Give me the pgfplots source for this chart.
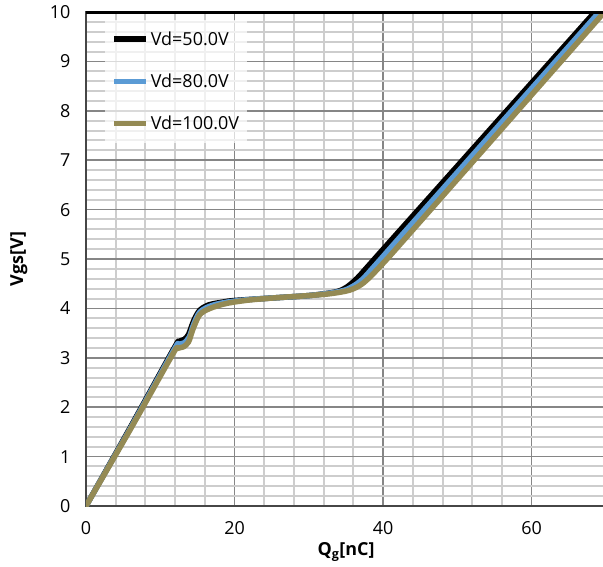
\documentclass[border=0pt]{standalone}
\usepackage{fontspec}
\setmainfont{Open Sans}
\usepackage{pgfplots}
\pgfplotsset{compat=1.18}
\definecolor{vdblue}{RGB}{91,155,213}
\definecolor{vdolive}{RGB}{148,138,84}
\definecolor{majgrid}{RGB}{134,134,134}
\definecolor{mingrid}{RGB}{205,205,205}
\begin{document}
\begin{tikzpicture}
\useasboundingbox (-86bp,-61bp) rectangle (517bp,506bp);
\begin{axis}[
  scale only axis, width=520bp, height=494bp,
  xmin=0, xmax=70, ymin=0, ymax=10,
  xtick={0,20,40,60}, ytick={0,1,...,10},
  minor x tick num=4, minor y tick num=4,
  grid=both,
  major grid style={majgrid, line width=1.5bp},
  minor grid style={mingrid, line width=2bp},
  major tick length=0pt, minor tick length=0pt,
  axis line style={draw=gray!55!black, line width=2.5bp},
  font=\fontsize{18}{21}\selectfont,
  /pgf/number format/assume math mode=true,
  xticklabel style={yshift=-12bp},
  yticklabel style={xshift=-12bp},
  xlabel={\bfseries Q\textsubscript{g}[nC]},
  ylabel={\bfseries Vgs[V]},
  xlabel style={at={(axis description cs:0.5,-0.093)}, anchor=center},
  ylabel style={at={(axis description cs:-0.129,0.5)}, anchor=center},
  legend style={at={(axis description cs:0.037,0.985)}, anchor=north west,
    draw=none, fill=white, fill opacity=0.7, text opacity=1,
    row sep=23bp, inner xsep=6bp, inner ysep=10bp},
  legend cell align=left,
  legend image code/.code={\draw[#1, line cap=butt] (0bp,0bp) -- (32bp,0bp);},
  every axis plot/.append style={line width=5.5bp, line join=round, line cap=round, smooth, tension=0.5},
]
\addplot[black] coordinates {
(0,0) (6,1.6) (11.8,3.18) (12.5,3.33) (13.2,3.37) (13.8,3.47) (14.5,3.75)
(15.3,3.96) (16.5,4.07) (18.5,4.13) (20,4.16) (25,4.21) (30,4.26) (33.5,4.33)
(35,4.42) (36.5,4.61) (38,4.86) (42.5,5.62) (68.5,10)};
\addlegendentry{Vd=50.0V}
\addplot[vdblue] coordinates {
(0,0) (6,1.58) (11.8,3.15) (12.4,3.27) (13.2,3.3) (13.9,3.42) (14.5,3.68)
(15.3,3.92) (16.6,4.04) (18.7,4.12) (22,4.18) (26,4.22) (30,4.26) (33.3,4.32)
(35.2,4.39) (37,4.56) (38.8,4.85) (43.2,5.6) (69.1,10)};
\addlegendentry{Vd=80.0V}
\addplot[vdolive] coordinates {
(0,0) (6,1.56) (11.7,3.08) (12.3,3.19) (13.1,3.22) (13.8,3.32) (14.4,3.58)
(15.3,3.87) (16.7,4.0) (18.9,4.1) (22,4.17) (26,4.22) (30,4.26) (33,4.3)
(35.5,4.37) (37.3,4.51) (39.6,4.85) (44,5.59) (69.8,10)};
\addlegendentry{Vd=100.0V}
\draw[black, line width=3.5bp] (rel axis cs:0,1) -- (rel axis cs:1,1);
\end{axis}
\end{tikzpicture}
\end{document}
